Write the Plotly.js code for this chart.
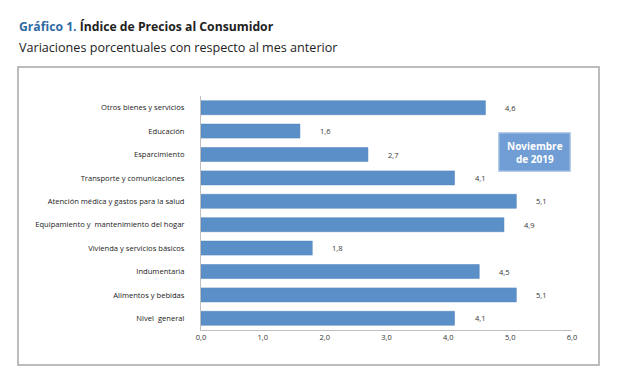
<!DOCTYPE html>
<html><head><meta charset="utf-8">
<script src="https://cdn.plot.ly/plotly-3.0.1.min.js"></script>
<style>html,body{margin:0;padding:0;background:#fff}#c{width:621px;height:389px}</style>
</head><body><div id="c"></div>
<script>
const categories = ["Otros bienes y servicios","Educación","Esparcimiento","Transporte y comunicaciones","Atención médica y gastos para la salud","Equipamiento y  mantenimiento del hogar","Vivienda y servicios básicos","Indumentaria","Alimentos y bebidas","Nivel  general"];
const values = [4.6,1.6,2.7,4.1,5.1,4.9,1.8,4.5,5.1,4.1];
const tickVals = [0,1,2,3,4,5,6];
const tickText = ["0,0","1,0","2,0","3,0","4,0","5,0","6,0"];

const L=201, R=572, T=96, B=330;
const px = x => (x-L)/(R-L);
const py = y => (B-y)/(B-T);

const labelAnn = values.map((v,i)=>({
  x:v, y:categories[i], xref:'x', yref:'y', text:v.toFixed(1).replace('.',','),
  showarrow:false, xanchor:'left', xshift:18, font:{family:'Open Sans, sans-serif', size:7.5, color:'#333'}
}));

const layout = {
  width:621, height:389,
  margin:{l:L, r:621-R, t:T, b:389-B},
  paper_bgcolor:'#fff', plot_bgcolor:'#fff',
  showlegend:false,
  bargap:0.4,
  title:{text:'<b><span style="color:#2f6aa3">Gráfico 1.</span> Índice de Precios al Consumidor</b>', x:19/621, xanchor:'left', xref:'container', y:1-27/389, yanchor:'middle', yref:'container', font:{family:'Open Sans, sans-serif', size:12.2, color:'#222'}},
  xaxis:{range:[0,6], tickvals:tickVals, ticktext:tickText, showgrid:false, zeroline:false, showline:true, linecolor:'#bfbfbf', linewidth:1, ticks:'', tickfont:{family:'Open Sans, sans-serif', size:7.5, color:'#333'}, fixedrange:true},
  yaxis:{autorange:'reversed', showgrid:false, zeroline:false, showline:true, linecolor:'#bfbfbf', linewidth:1, ticks:'', ticklabelstandoff:14, tickfont:{family:'Open Sans, sans-serif', size:7.6, color:'#222'}},
  shapes:[
    {type:'rect', xref:'paper', yref:'paper', x0:px(18), x1:px(599), y0:py(365), y1:py(67), line:{color:'#a6a6a6', width:1.5}, fillcolor:'rgba(0,0,0,0)', layer:'below'},
    {type:'rect', xref:'paper', yref:'paper', x0:px(499), x1:px(570), y0:py(171), y1:py(133), line:{color:'#9bbbe0', width:1.5}, fillcolor:'#6f9dd4'}
  ],
  annotations: labelAnn.concat([
    {xref:'paper', yref:'paper', x:px(19), xshift:-2, y:py(47), xanchor:'left', yanchor:'middle', showarrow:false, text:'Variaciones porcentuales con respecto al mes anterior', font:{family:'Open Sans, sans-serif', size:12.6, color:'#222'}},
    {xref:'paper', yref:'paper', x:px(534.5), y:py(152), xanchor:'center', yanchor:'middle', showarrow:false, text:'<b>Noviembre<br>de 2019</b>', font:{family:'Open Sans, sans-serif', size:10, color:'#fff'}}
  ])
};

Plotly.newPlot('c', [{
  type:'bar', orientation:'h', x:values, y:categories,
  marker:{color:'#5b8fc8', line:{color:'#4f81bd', width:0.5}},
  hoverinfo:'none'
}], layout, {staticPlot:true, displayModeBar:false});
</script></body></html>
